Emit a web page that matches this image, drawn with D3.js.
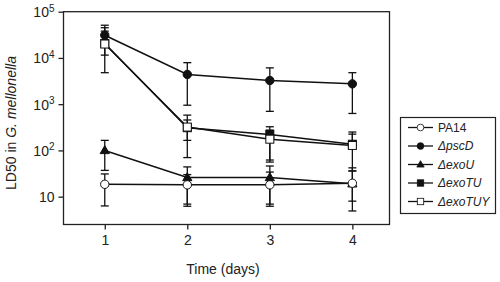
<!DOCTYPE html>
<html>
<head>
<meta charset="utf-8">
<script src="https://cdn.jsdelivr.net/npm/d3@7"></script>
<style>
  body { margin: 0; background: #fff; }
  svg { font-family: "Liberation Sans", Arial, sans-serif; }
  .axis path, .axis line { stroke: #222; stroke-width: 1.3; }
  .axis text { font-size: 14px; fill: #222; }
</style>
</head>
<body>
<svg width="500" height="282"></svg>
<script>
// days on the x axis
var days = [1, 2, 3, 4];
var yTicks = [10, 100, 1000, 10000, 100000];

// LD50 means and error bar ends
var pa14      = [18.5, 18, 18, 19.5],
    pa14Lo    = [6.3, 6.2, 6.2, 4.9],
    pa14Hi    = [31, 30, 34, 36];
var pscD      = [31000, 4400, 3250, 2750],
    pscDLo    = [11500, 950, 700, 630],
    pscDHi    = [51000, 7900, 6100, 4800];
var exoU      = [100, 26, 26, 19],
    exoULo    = [37, 6.9, 6.9, 8],
    exoUHi    = [165, 44, 46, 42];
var exoTU     = [20500, 310, 222, 136],
    exoTULo   = [20500, 165, 56, 36],
    exoTUHi   = [45000, 455, 275, 225];
var exoTUY    = [20000, 320, 175, 128],
    exoTUYLo  = [4800, 70, 62, 128],
    exoTUYHi  = [38000, 580, 325, 250];

var svg = d3.select("svg");
var pLeft = 63.5, pRight = 389.5, pTop = 11.7, pBottom = 224.5;

var x = d3.scaleLinear().domain([0.5, 4.45]).range([pLeft, pRight]);
var y = d3.scaleLog().domain([2.5, 100000]).range([pBottom, pTop]);

// frame
svg.append("rect")
   .attr("x", pLeft).attr("y", pTop)
   .attr("width", pRight - pLeft).attr("height", pBottom - pTop)
   .attr("fill", "none").attr("stroke", "#222").attr("stroke-width", 1.3);

// y axis
var yAxis = svg.append("g")
   .attr("class", "axis")
   .attr("transform", "translate(" + pLeft + ",0)")
   .call(d3.axisLeft(y).tickValues(yTicks).tickSize(5).tickPadding(4).tickFormat(""));
yAxis.select(".domain").remove();
yAxis.selectAll(".tick").append("text")
   .attr("x", -9).attr("dy", "0.36em")
   .attr("text-anchor", "end")
   .attr("fill", "#222")
   .each(function(d) {
     var t = d3.select(this);
     var e = Math.round(Math.log10(d));
     t.append("tspan").text("10");
     if (e > 1) {
       t.append("tspan").attr("dy", "-0.55em").style("font-size", "10px").text(e);
     }
   });

// x axis
var xAxis = svg.append("g")
   .attr("class", "axis")
   .attr("transform", "translate(0," + pBottom + ")")
   .call(d3.axisBottom(x).tickValues(days).tickSize(5).tickPadding(6).tickFormat(d3.format("d")));
xAxis.select(".domain").remove();

// axis labels
svg.append("text")
   .attr("x", 223).attr("y", 274)
   .attr("text-anchor", "middle")
   .style("font-size", "14px").attr("fill", "#222")
   .text("Time (days)");

var yl = svg.append("text")
   .attr("transform", "translate(16,123) rotate(-90)")
   .attr("text-anchor", "middle")
   .style("font-size", "14px").attr("fill", "#222");
yl.append("tspan").text("LD50 in ");
yl.append("tspan").style("font-style", "italic").text("G. mellonella");

// series, drawn bottom to top
var series = [
  { name: "\u0394exoU",   v: exoU,   lo: exoULo,   hi: exoUHi,   shape: "tri",    fill: "#111" },
  { name: "\u0394exoTU",  v: exoTU,  lo: exoTULo,  hi: exoTUHi,  shape: "square", fill: "#111" },
  { name: "\u0394pscD",   v: pscD,   lo: pscDLo,   hi: pscDHi,   shape: "circle", fill: "#111" },
  { name: "\u0394exoTUY", v: exoTUY, lo: exoTUYLo, hi: exoTUYHi, shape: "square", fill: "#fff" },
  { name: "PA14",         v: pa14,   lo: pa14Lo,   hi: pa14Hi,   shape: "circle", fill: "#fff" }
];

var line = d3.line().x(function(d) { return x(d.day); }).y(function(d) { return y(d.v); });

function marker(g, shape, fill) {
  var p;
  if (shape === "circle") p = g.append("circle").attr("r", 4.2);
  else if (shape === "square") p = g.append("rect").attr("x", -4).attr("y", -4).attr("width", 8).attr("height", 8);
  else p = g.append("path").attr("d", "M0,-4.8L4.6,3.2L-4.6,3.2Z");
  p.attr("fill", fill).attr("stroke", "#111").attr("stroke-width", 1);
}

series.forEach(function(s) {
  var pts = days.map(function(d, i) { return { day: d, v: s.v[i], lo: s.lo[i], hi: s.hi[i] }; });
  var g = svg.append("g");

  // error bars
  pts.forEach(function(p) {
    var cx = x(p.day);
    [[p.v, p.hi], [p.v, p.lo]].forEach(function(seg) {
      if (seg[1] === seg[0]) return;
      g.append("line").attr("x1", cx).attr("x2", cx)
       .attr("y1", y(seg[0])).attr("y2", y(seg[1]))
       .attr("stroke", "#111").attr("stroke-width", 1.3);
      g.append("line").attr("x1", cx - 4).attr("x2", cx + 4)
       .attr("y1", y(seg[1])).attr("y2", y(seg[1]))
       .attr("stroke", "#111").attr("stroke-width", 1.3);
    });
  });

  g.append("path").datum(pts).attr("d", line)
   .attr("fill", "none").attr("stroke", "#111").attr("stroke-width", 1.5);

  pts.forEach(function(p) {
    marker(g.append("g").attr("transform", "translate(" + x(p.day) + "," + y(p.v) + ")"), s.shape, s.fill);
  });
});

// legend
var legendOrder = [4, 2, 0, 1, 3];
var lg = svg.append("g");
lg.append("rect").attr("x", 400.5).attr("y", 117.5).attr("width", 95).attr("height", 96)
  .attr("fill", "#fff").attr("stroke", "#222").attr("stroke-width", 1.2);
legendOrder.forEach(function(k, i) {
  var s = series[k];
  var yy = 127.5 + i * 18.5;
  lg.append("line").attr("x1", 408).attr("x2", 433).attr("y1", yy).attr("y2", yy)
    .attr("stroke", "#111").attr("stroke-width", 1.3);
  var m = lg.append("g").attr("transform", "translate(420.5," + yy + ") scale(0.8)");
  marker(m, s.shape, s.fill);
  lg.append("text").attr("x", 438).attr("y", yy).attr("dy", "0.36em")
    .style("font-size", "12px").attr("fill", "#222")
    .style("font-style", s.name === "PA14" ? "normal" : "italic")
    .text(s.name);
});
</script>
</body>
</html>
